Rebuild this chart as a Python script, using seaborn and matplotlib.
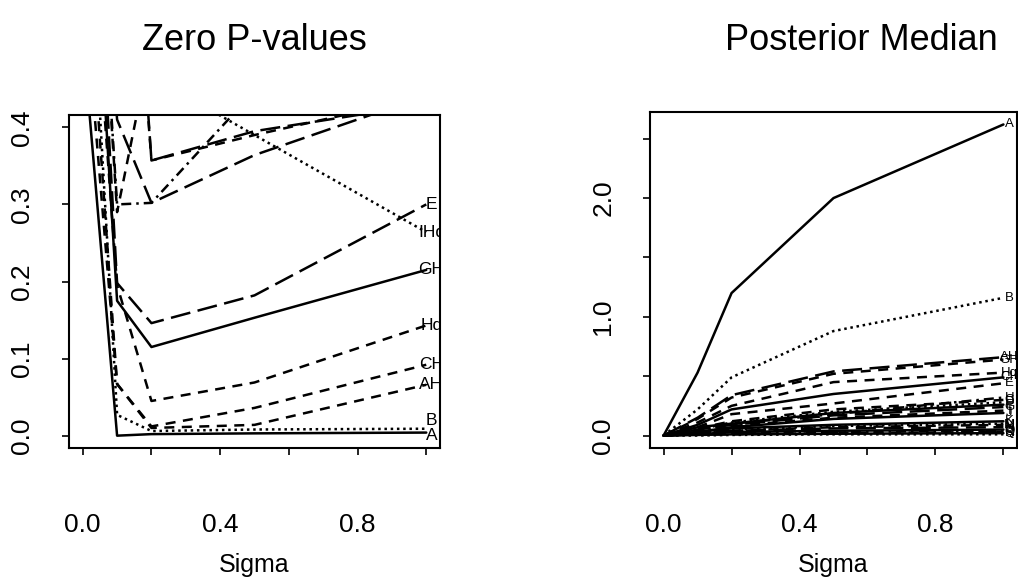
import matplotlib
matplotlib.use('Agg')
from matplotlib import pyplot as plt
import seaborn as sns

sns.set_style('ticks')
plt.rcParams['font.family'] = ['Liberation Sans', 'DejaVu Sans']
plt.rcParams['text.color'] = 'black'
plt.rcParams['axes.labelcolor'] = 'black'
plt.rcParams['xtick.color'] = 'black'
plt.rcParams['ytick.color'] = 'black'

# sigma grid shared by both panels
sigma = [0.0, 0.1, 0.2, 0.5, 1.0]

# ---- Zero P-values (left panel) ----
pv_labels = ['A', 'B', 'IHq', 'E', 'GH', 'Hq', 'CH', 'AH', 'C', 'D', 'F', 'G', 'H']
pv_A   = [0.52, 0.000, 0.002, 0.003, 0.004]
pv_B   = [0.81, 0.027, 0.006, 0.008, 0.009]
pv_IHq = [1.00, 0.700, 0.466, 0.390, 0.264]
pv_E   = [1.00, 0.198, 0.146, 0.182, 0.300]
pv_GH  = [0.90, 0.175, 0.115, 0.153, 0.215]
pv_Hq  = [0.80, 0.195, 0.045, 0.069, 0.143]
pv_CH  = [0.70, 0.067, 0.012, 0.036, 0.092]
pv_AH  = [0.60, 0.067, 0.010, 0.014, 0.066]
pv_C   = [1.00, 1.000, 0.357, 0.395, 0.430]
pv_D   = [1.00, 0.950, 0.357, 0.390, 0.440]
pv_F   = [1.00, 0.410, 0.302, 0.364, 0.441]
pv_G   = [1.00, 0.300, 0.302, 0.447, 0.600]
pv_H   = [1.00, 0.290, 0.510, 0.600, 0.600]
pv_values = [pv_A, pv_B, pv_IHq, pv_E, pv_GH, pv_Hq, pv_CH, pv_AH,
             pv_C, pv_D, pv_F, pv_G, pv_H]

# ---- Posterior Median (right panel) ----
pm_labels = ['A', 'B', 'AH', 'GH', 'Hq', 'CH', 'E',
             'C', 'D', 'F', 'G', 'H', 'I', 'J',
             'K', 'L', 'M', 'N', 'O', 'P', 'Q', 'R', 'S']
pm_A  = [0.0, 0.53, 1.20, 2.00, 2.62]
pm_B  = [0.0, 0.22, 0.49, 0.88, 1.16]
pm_AH = [0.0, 0.15, 0.34, 0.54, 0.66]
pm_GH = [0.0, 0.14, 0.32, 0.52, 0.64]
pm_Hq = [0.0, 0.11, 0.25, 0.45, 0.53]
pm_CH = [0.0, 0.09, 0.22, 0.35, 0.49]
pm_E  = [0.0, 0.07, 0.18, 0.27, 0.44]
pm_C  = [0.0, 0.06, 0.12, 0.22, 0.30]
pm_D  = [0.0, 0.05, 0.11, 0.20, 0.28]
pm_F  = [0.0, 0.07, 0.10, 0.19, 0.26]
pm_G  = [0.0, 0.05, 0.09, 0.17, 0.24]
pm_H  = [0.0, 0.04, 0.10, 0.18, 0.32]
pm_I  = [0.0, 0.06, 0.08, 0.15, 0.21]
pm_J  = [0.0, 0.03, 0.07, 0.14, 0.19]
pm_K  = [0.0, 0.03, 0.06, 0.09, 0.12]
pm_L  = [0.0, 0.02, 0.05, 0.08, 0.10]
pm_M  = [0.0, 0.03, 0.04, 0.07, 0.09]
pm_N  = [0.0, 0.02, 0.04, 0.06, 0.07]
pm_O  = [0.0, 0.01, 0.03, 0.04, 0.05]
pm_P  = [0.0, 0.01, 0.02, 0.03, 0.04]
pm_Q  = [0.0, 0.01, 0.01, 0.02, 0.03]
pm_R  = [0.0, 0.005, 0.01, 0.015, 0.02]
pm_S  = [0.0, 0.0, 0.005, 0.01, 0.01]
pm_values = [pm_A, pm_B, pm_AH, pm_GH, pm_Hq, pm_CH, pm_E,
             pm_C, pm_D, pm_F, pm_G, pm_H, pm_I, pm_J,
             pm_K, pm_L, pm_M, pm_N, pm_O, pm_P, pm_Q, pm_R, pm_S]

# R style line types
solid = '-'
dashed = (0, (4, 3))
dotted = (0, (1, 1.5))
longdash = (0, (8, 3))
dotdash = (0, (1, 2, 4, 2))

pv_styles = [solid, dotted, dotted, longdash, solid, dashed, dashed, dashed,
             longdash, dashed, longdash, dotdash, dashed]
pm_styles = [solid, dotted, longdash, dashed, dashed, solid, dashed,
             dashed, dotted, solid, longdash, dotdash, dashed, solid,
             solid, dotted, dashed, longdash, solid, dotdash, dashed, solid, dotted]

fig = plt.figure(figsize=(10.18, 5.82), dpi=100)
ax1 = fig.add_axes([69/1018, 1-448/582, 371/1018, 333/582])
ax2 = fig.add_axes([650/1018, 1-448/582, 367/1018, 336/582])

# left panel, labels B/A are pushed apart a little like in the original
nudge = {'B': 0.011, 'A': -0.004}
for lab, vals, ls in zip(pv_labels, pv_values, pv_styles):
    sns.lineplot(x=sigma, y=vals, ax=ax1, color='black', linestyle=ls,
                 linewidth=1.8, estimator=None, sort=False)
    if vals[-1] < 0.41:
        ax1.text(1.015, vals[-1] + nudge.get(lab, 0), lab, ha='center',
                 va='center', fontsize=12.5, clip_on=True)

ax1.set_xlim(-0.04, 1.04)
ax1.set_ylim(-0.016, 0.416)
ax1.set_yticks([0.0, 0.1, 0.2, 0.3, 0.4])
ax1.set_yticklabels(['0.0', '0.1', '0.2', '0.3', '0.4'], rotation=90, va='center')

# right panel
for lab, vals, ls in zip(pm_labels, pm_values, pm_styles):
    sns.lineplot(x=sigma, y=vals, ax=ax2, color='black', linestyle=ls,
                 linewidth=1.8, estimator=None, sort=False)
    ax2.text(1.018, vals[-1], lab, ha='center', va='center',
             fontsize=9.5, clip_on=True)

ax2.set_xlim(-0.04, 1.04)
ax2.set_ylim(-0.105, 2.725)
ax2.set_yticks([0.0, 0.5, 1.0, 1.5, 2.0, 2.5])
ax2.set_yticklabels(['0.0', '', '1.0', '', '2.0', ''], rotation=90, va='center')

for ax in (ax1, ax2):
    ax.set_xticks([0.0, 0.2, 0.4, 0.6, 0.8, 1.0])
    ax.set_xticklabels(['0.0', '', '0.4', '', '0.8', ''])
    ax.tick_params(axis='x', length=5, width=1.2, pad=42, labelsize=19)
    ax.tick_params(axis='y', length=5, width=1.2, pad=20, labelsize=19)
    for sp in ax.spines.values():
        sp.set_color('black')
        sp.set_linewidth(1.5)
    ax.set_xlabel('Sigma', fontsize=18)
    ax.set_ylabel('')
    ax.xaxis.label.set_va('center')
    ax.grid(False)

ax1.xaxis.set_label_coords(0.5, (448-565)/333)
ax2.xaxis.set_label_coords(0.5, (448-565)/336)

fig.text(254/1018, 1-40/582, 'Zero P-values', ha='center', va='center', fontsize=26)
fig.text(861/1018, 1-40/582, 'Posterior Median', ha='center', va='center', fontsize=26)

fig.savefig('out.png', dpi=100, facecolor='white')
